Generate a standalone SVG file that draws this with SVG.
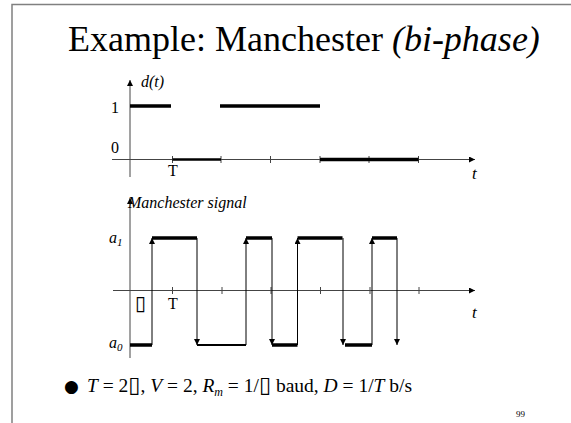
<svg xmlns="http://www.w3.org/2000/svg" width="571" height="423" viewBox="0 0 571 423">
<style>
.serif{font-family:"Liberation Serif","Times New Roman",serif;fill:#000}
.it{font-style:italic}
.ax{stroke:#444;stroke-width:1;fill:none}
.sig{stroke:#000;stroke-width:1;fill:none}
.lvl{stroke:#000;stroke-width:3.5;fill:none}
.box{font-family:"DejaVu Sans",sans-serif}
</style>
<defs>
<marker id="ah" viewBox="0 0 10 10" refX="10" refY="5" markerWidth="7" markerHeight="6" markerUnits="userSpaceOnUse" orient="auto"><path d="M0,0 L10,5 L0,10 z" fill="#000"/></marker>
</defs>
<g id="frame"><path d="M12,423 V4.5 H571" stroke="#808080" stroke-width="1.5" fill="none"/></g>
<g id="title"><text class="serif" x="68" y="51" font-size="36">Example: Manchester <tspan class="it">(bi-phase)</tspan></text></g>
<g id="connectors">
<path class="ax" d="M130,177 V80" marker-end="url(#ah)"/>
<path class="ax" d="M112,159.5 H475" marker-end="url(#ah)"/>
<path class="ax" d="M172.5,156 V163 M221,156 V163 M270.5,156 V163 M320,156 V163 M369,156 V163 M418.5,156 V163"/>
<path class="ax" d="M130,358 V198" marker-end="url(#ah)"/>
<path class="ax" d="M113,290.5 H475" marker-end="url(#ah)"/>
<path class="ax" d="M172.5,287 V294 M222,287 V294 M271,287 V294 M320.5,287 V294 M370,287 V294 M419,287 V294"/>
</g>
<g id="data-signal">
<path class="lvl" d="M130,106 H171 M220,106 H320 M320,159.5 H418.5"/>
<path d="M172.5,159.5 H221" stroke="#000" stroke-width="2.5"/>
</g>
<g id="manchester-signal">
<path class="lvl" d="M130,345 H152 M152,238 H197 M246,238 H272 M272,345 H297.5 M297.5,238 H342.5 M345,345 H372 M372,238 H397"/>
<path d="M197,345 H246" stroke="#000" stroke-width="2"/>
<path class="sig" d="M152,345 V238" marker-end="url(#ah)"/>
<path class="sig" d="M197,238 V345" marker-end="url(#ah)"/>
<path class="sig" d="M246,345 V238" marker-end="url(#ah)"/>
<path class="sig" d="M272,238 V345" marker-end="url(#ah)"/>
<path class="sig" d="M297.5,345 V238" marker-end="url(#ah)"/>
<path class="sig" d="M343,238 V345" marker-end="url(#ah)"/>
<path class="sig" d="M372,345 V238" marker-end="url(#ah)"/>
<path class="sig" d="M397,238 V345" marker-end="url(#ah)"/>
</g>
<g id="labels">
<text class="serif" x="111" y="113" font-size="16">1</text>
<text class="serif" x="111" y="153" font-size="16">0</text>
<text class="serif it" x="141" y="87" font-size="16">d(t)</text>
<text class="serif" x="168" y="176" font-size="16">T</text>
<text class="serif it" x="472" y="179" font-size="17">t</text>
<text class="serif it" x="128" y="208" font-size="16">Manchester signal</text>
<text class="serif it" x="109" y="243" font-size="16">a<tspan font-size="11" dy="3">1</tspan></text>
<text class="serif it" x="109" y="348" font-size="16">a<tspan font-size="11" dy="3">0</tspan></text>
<text class="box" x="135" y="310" font-size="20">▯</text>
<text class="serif" x="168" y="309" font-size="16">T</text>
<text class="serif it" x="472" y="318" font-size="17">t</text>
</g>
<g id="formula">
<text class="box" x="64" y="392" font-size="17">●</text>
<text class="serif" x="87" y="392" font-size="19.5"><tspan class="it">T</tspan> = 2<tspan class="box" font-size="22">▯</tspan>, <tspan class="it">V</tspan> = 2, <tspan class="it">R</tspan><tspan class="it" font-size="12" dy="4">m</tspan><tspan dy="-4"> = 1/</tspan><tspan class="box" font-size="22">▯</tspan> baud, <tspan class="it">D</tspan> = 1/<tspan class="it">T</tspan> b/s</text>
<text class="serif" x="516" y="417" font-size="9">99</text>
</g>
</svg>
